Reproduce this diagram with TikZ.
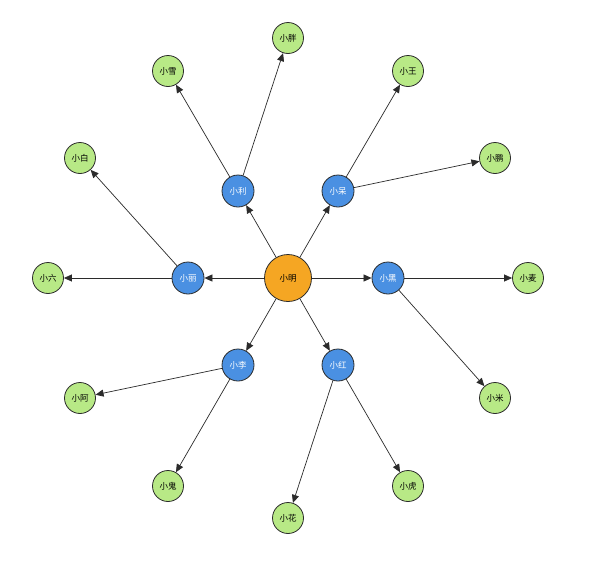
\documentclass[tikz,border=0pt]{standalone}
\usepackage{fontspec}
\newfontfamily\cjk{Noto Sans CJK SC}
\usetikzlibrary{arrows.meta}
\definecolor{cgreen}{HTML}{B8E986}
\definecolor{cblue}{HTML}{4A90E2}
\definecolor{corange}{HTML}{F5A623}
\definecolor{cline}{HTML}{2B2B2B}
\tikzset{
  nd/.style={circle,draw=cline,line width=0.8pt,inner sep=0pt,font=\cjk\fontsize{8.5}{8.5}\selectfont},
  leaf/.style={nd,fill=cgreen,minimum size=31pt,text=black},
  mid/.style={nd,fill=cblue,minimum size=32pt,text=white},
  root/.style={nd,fill=corange,minimum size=47pt,text=black},
  edge/.style={draw=cline,line width=0.7pt,-{Triangle[length=8pt,width=7pt]}}
}
\begin{document}
\begin{tikzpicture}[x=1pt,y=-1pt]
\useasboundingbox[fill=white] (0,0) rectangle (600,566);
\node[root] (m) at (288,278) {小明};
\node[mid] (li) at (238,191) {小利};
\node[mid] (dai) at (338,191) {小呆};
\node[mid] (hei) at (388,278) {小黑};
\node[mid] (hong) at (338,365) {小红};
\node[mid] (lee) at (238,365) {小李};
\node[mid] (lii) at (188,278) {小丽};
\node[leaf] (pang) at (288,38) {小胖};
\node[leaf] (xue) at (168,71) {小雪};
\node[leaf] (wang) at (408,71) {小王};
\node[leaf] (peng) at (495,158) {小鹏};
\node[leaf] (bai) at (80,158) {小白};
\node[leaf] (liu) at (48,278) {小六};
\node[leaf] (mai) at (528,278) {小麦};
\node[leaf] (mi) at (495,398) {小米};
\node[leaf] (a) at (80,398) {小阿};
\node[leaf] (gui) at (168,486) {小鬼};
\node[leaf] (hu) at (408,486) {小虎};
\node[leaf] (hua) at (288,518) {小花};
\foreach \t in {li,dai,hei,hong,lee,lii} \draw[edge] (m) -- (\t);
\draw[edge] (li) -- (xue);
\draw[edge] (li) -- (pang);
\draw[edge] (dai) -- (wang);
\draw[edge] (dai) -- (peng);
\draw[edge] (hei) -- (mai);
\draw[edge] (hei) -- (mi);
\draw[edge] (hong) -- (hua);
\draw[edge] (hong) -- (hu);
\draw[edge] (lee) -- (a);
\draw[edge] (lee) -- (gui);
\draw[edge] (lii) -- (bai);
\draw[edge] (lii) -- (liu);
\end{tikzpicture}
\end{document}
